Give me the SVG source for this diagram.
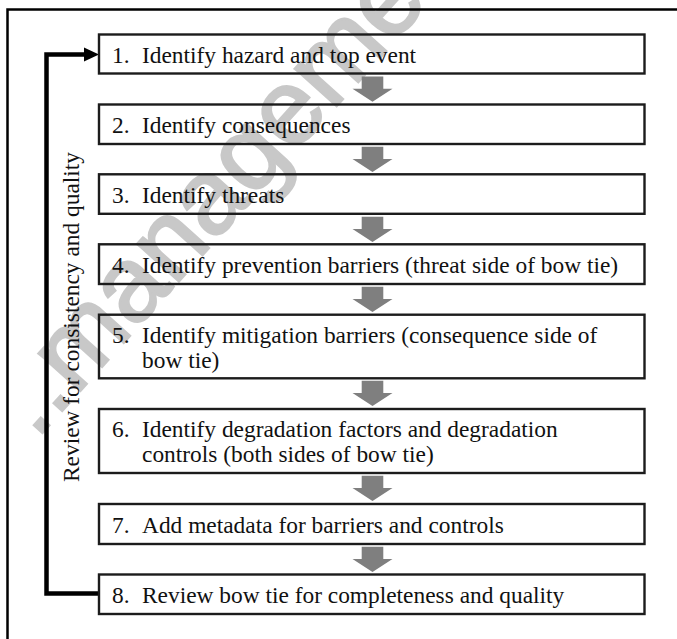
<svg xmlns="http://www.w3.org/2000/svg" width="677" height="639" viewBox="0 0 677 639">
  <style>
    .frame{fill:none;stroke:#000;stroke-width:2.5}
    .box{fill:none;stroke:#1c1c1c;stroke-width:2.4}
    .lbl{font-family:"Liberation Serif","Times New Roman",serif;font-size:23.4px;fill:#111}
    .step{fill:#7f7f7f}
    .loop{fill:none;stroke:#000;stroke-width:4.5}
    .wm{font-family:"Liberation Sans",Arial,sans-serif;font-size:106px;fill:#c8c8c8;stroke:#c8c8c8;stroke-width:2.5}
  </style>
  <defs>
    <!-- block arrow between consecutive steps -->
    <path id="down" d="M-10.8,0 H10.8 V12.3 H20 L0,25.3 L-20,12.3 H-10.8 Z"/>
  </defs>

  <rect width="677" height="639" fill="#fff"/>

  <!-- background watermark -->
  <text class="wm" transform="translate(36,440) rotate(-48)">..manageme</text>

  <!-- outer frame -->
  <rect class="frame" x="7.5" y="9.5" width="700" height="700"/>

  <g id="connectors">
    <use href="#down" x="372.5" y="76.4" class="step"/>
    <use href="#down" x="372.5" y="146.7" class="step"/>
    <use href="#down" x="372.5" y="216.7" class="step"/>
    <use href="#down" x="372.5" y="286.7" class="step"/>
    <use href="#down" x="372.5" y="380.7" class="step"/>
    <use href="#down" x="372.5" y="475.7" class="step"/>
    <use href="#down" x="372.5" y="546.7" class="step"/>
    <!-- review loop back from step 8 to step 1 -->
    <path class="loop" d="M99,593.5 H46.5 V54.5 H85"/>
    <polygon points="84,47.5 99,54.5 84,61.5" fill="#000"/>
  </g>

  <g id="loop-label">
    <text class="lbl" transform="translate(78.5,317) rotate(-90)" text-anchor="middle">Review for consistency and quality</text>
  </g>

  <g id="step1">
    <rect class="box" x="99" y="34.5" width="545.5" height="39"/>
    <text class="lbl" y="63.3"><tspan x="112">1.</tspan><tspan x="142">Identify hazard and top event</tspan></text>
  </g>
  <g id="step2">
    <rect class="box" x="99" y="104.5" width="545.5" height="39.5"/>
    <text class="lbl" y="133.3"><tspan x="112">2.</tspan><tspan x="142">Identify consequences</tspan></text>
  </g>
  <g id="step3">
    <rect class="box" x="99" y="174.3" width="545.5" height="39.5"/>
    <text class="lbl" y="202.6"><tspan x="112">3.</tspan><tspan x="142">Identify threats</tspan></text>
  </g>
  <g id="step4">
    <rect class="box" x="99" y="244.3" width="545.5" height="39.7"/>
    <text class="lbl" y="272.7"><tspan x="112">4.</tspan><tspan x="142">Identify prevention barriers (threat side of bow tie)</tspan></text>
  </g>
  <g id="step5">
    <rect class="box" x="99" y="314.7" width="545.5" height="63.6"/>
    <text class="lbl" y="342.7"><tspan x="112">5.</tspan><tspan x="142">Identify mitigation barriers (consequence side of</tspan><tspan x="142" y="368.3">bow tie)</tspan></text>
  </g>
  <g id="step6">
    <rect class="box" x="99" y="409" width="545.5" height="64"/>
    <text class="lbl" y="436.5"><tspan x="112">6.</tspan><tspan x="142">Identify degradation factors and degradation</tspan><tspan x="142" y="462">controls (both sides of bow tie)</tspan></text>
  </g>
  <g id="step7">
    <rect class="box" x="99" y="504" width="545.5" height="40"/>
    <text class="lbl" y="533.3"><tspan x="112">7.</tspan><tspan x="142">Add metadata for barriers and controls</tspan></text>
  </g>
  <g id="step8">
    <rect class="box" x="99" y="574.5" width="545.5" height="39.5"/>
    <text class="lbl" y="603.3"><tspan x="112">8.</tspan><tspan x="142">Review bow tie for completeness and quality</tspan></text>
  </g>
</svg>
